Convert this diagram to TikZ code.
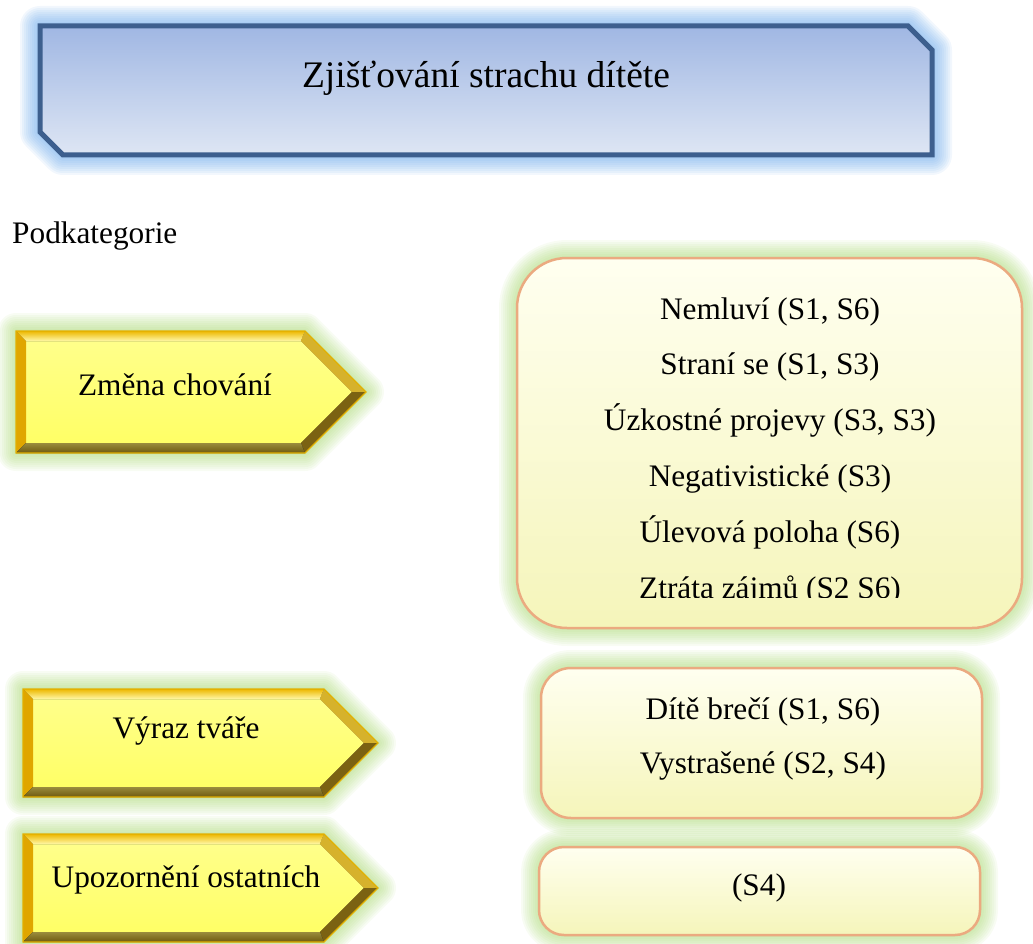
\documentclass[tikz,border=0pt]{standalone}
\usepackage{fontspec}
\setmainfont{Liberation Serif}
\usetikzlibrary{calc}

\definecolor{titleborder}{HTML}{3D5F8E}
\definecolor{titletop}{HTML}{A0B7E3}
\definecolor{titlebot}{HTML}{DEE6F4}
\definecolor{glowblue}{HTML}{6AA8EA}
\definecolor{glowgreen}{HTML}{A0D464}
\definecolor{facetop}{HTML}{FFFF8A}
\definecolor{facebot}{HTML}{FFFF66}
\definecolor{bevtopout}{HTML}{EDB800}
\definecolor{bevtopin}{HTML}{FFF8A8}
\definecolor{bevleft}{HTML}{E0A600}
\definecolor{bevur}{HTML}{D6B22C}
\definecolor{bevlr}{HTML}{7B6212}
\definecolor{bevbotin}{HTML}{9A8C3C}
\definecolor{bevbotout}{HTML}{6E5A10}
\definecolor{arrowline}{HTML}{E2B000}
\definecolor{boxborder}{HTML}{EBAA80}
\definecolor{boxtop}{HTML}{FFFFF0}
\definecolor{boxbot}{HTML}{F5F5BA}

\newcommand\hdfont{\fontsize{37.5}{45}\selectfont}
\newcommand\txfont{\fontsize{31.3}{37}\selectfont}

\tikzset{
  label text/.style={font=\txfont, anchor=base, inner sep=0pt},
  glowline/.style={line join=round, line width=#1pt},
}

% yellow bevelled arrow: left, top, bottom, tip x
\newcommand\yarrow[4]{%
  \pgfmathsetmacro\mY{(#2+#3)/2}%
  \pgfmathsetmacro\sX{#4-(#3-#2)/2}%
  \pgfmathsetmacro\iL{#1+10}%
  \pgfmathsetmacro\iT{#2+10}%
  \pgfmathsetmacro\iB{#3-10}%
  \pgfmathsetmacro\iS{\sX-4.14}%
  \pgfmathsetmacro\iX{#4-14.14}%
  \foreach \gw in {36,32,...,4}{%
    \draw[glowgreen, glowline=\gw, opacity=0.075]
      (#1,#2) -- (\sX,#2) -- (#4,\mY) -- (\sX,#3) -- (#1,#3) -- cycle;}
  \fill[top color=facetop, bottom color=facebot]
    (\iL,\iT) -- (\iS,\iT) -- (\iX,\mY) -- (\iS,\iB) -- (\iL,\iB) -- cycle;
  \fill[top color=bevtopout, bottom color=bevtopin]
    (#1,#2) -- (\sX,#2) -- (\iS,\iT) -- (\iL,\iT) -- cycle;
  \fill[bevleft] (#1,#2) -- (\iL,\iT) -- (\iL,\iB) -- (#1,#3) -- cycle;
  \fill[bevur] (\sX,#2) -- (#4,\mY) -- (\iX,\mY) -- (\iS,\iT) -- cycle;
  \fill[bevlr] (#4,\mY) -- (\sX,#3) -- (\iS,\iB) -- (\iX,\mY) -- cycle;
  \fill[top color=bevbotin, bottom color=bevbotout]
    (\sX,#3) -- (#1,#3) -- (\iL,\iB) -- (\iS,\iB) -- cycle;
  \draw[arrowline, line width=1.2pt, line join=miter]
    (#1,#2) -- (\sX,#2) -- (#4,\mY) -- (\sX,#3) -- (#1,#3) -- cycle;
}

% pale rounded box: x1, y1, x2, y2, corner radius
\newcommand\ybox[5]{%
  \foreach \gw in {36,32,...,4}{%
    \draw[glowgreen, glowline=\gw, opacity=0.075, rounded corners=#5pt]
      (#1,#2) rectangle (#3,#4);}
  \draw[boxborder, line width=2.5pt, rounded corners=#5pt,
        top color=boxtop, bottom color=boxbot] (#1,#2) rectangle (#3,#4);
}

\begin{document}
\begin{tikzpicture}[x=1pt, y=-1pt]
  \useasboundingbox (0,0) rectangle (1033,944);

  % heading banner with cut corners
  \foreach \gw in {40,36,...,8}{%
    \draw[glowblue, glowline=\gw, opacity=0.09]
      (40,26) -- (908,26) -- (932,50) -- (932,155) -- (63,155) -- (40,132) -- cycle;}
  \draw[titleborder, line width=5pt, line join=miter, top color=titletop, bottom color=titlebot]
    (40,26) -- (908,26) -- (932,50) -- (932,155) -- (63,155) -- (40,132) -- cycle;
  \node[font=\hdfont, anchor=base, inner sep=0pt] (title) at (486,88) {Zjišťování strachu dítěte};

  \node[font=\txfont, anchor=base west, inner sep=0pt] (podkat) at (12,243) {Podkategorie};

  % subcategory arrows
  \yarrow{16}{331}{453}{366}
  \node[label text] (zmena) at (175,395) {Změna chování};
  \yarrow{23}{689}{797}{378}
  \node[label text] (vyraz) at (186,738) {Výraz tváře};
  \yarrow{23}{834}{942}{378}
  \node[label text] (upoz) at (186,887) {Upozornění ostatních};

  % observation boxes
  \ybox{517}{258}{1022}{628}{50}
  \begin{scope}
    \clip (517,258) rectangle (1022,597);
    \node[label text] (c1) at (770,319) {Nemluví (S1, S6)};
    \node[label text] (c2) at (770,374.8) {Straní se (S1, S3)};
    \node[label text] (c3) at (770,430.6) {Úzkostné projevy (S3, S3)};
    \node[label text] (c4) at (770,486.4) {Negativistické (S3)};
    \node[label text] (c5) at (770,542.2) {Úlevová poloha (S6)};
    \node[label text] (c6) at (770,598) {Ztráta zájmů (S2 S6)};
  \end{scope}

  \ybox{541}{668}{982}{818}{30}
  \node[label text] (v1) at (763,719) {Dítě brečí (S1, S6)};
  \node[label text] (v2) at (763,773) {Vystrašené (S2, S4)};

  \ybox{539}{847}{980}{935}{25}
  \node[label text] (u1) at (759,895) {(S4)};
\end{tikzpicture}
\end{document}
